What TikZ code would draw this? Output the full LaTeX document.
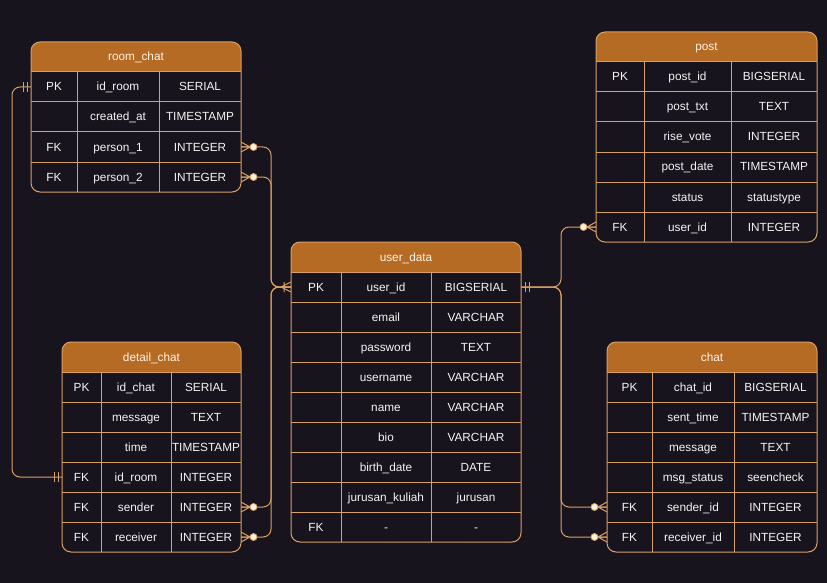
\documentclass[tikz,border=0pt]{standalone}
\usepackage{fontspec}
\setmainfont{Liberation Sans}
\definecolor{bgc}{HTML}{18141D}
\definecolor{hdc}{HTML}{B66B25}
\definecolor{lc}{HTML}{D9A066}
\definecolor{txc}{HTML}{F4F4F4}
\definecolor{hdtx}{HTML}{FFF3E2}
\definecolor{dotc}{HTML}{FFF3DC}
\tikzset{
  lnk/.style={draw=lc, line width=1pt},
  conn/.style={lnk, rounded corners=8pt},
  cell/.style={text=txc, font=\fontsize{11.8}{13}\selectfont, inner sep=0pt, text height=10pt, text depth=2pt},
  rowbox/.style={inner sep=0pt, outer sep=0pt, minimum height=30pt},
}
\newcommand\ertable[8]{%
  \pgfmathsetmacro\tx{#2}%
  \pgfmathsetmacro\ty{#3}%
  \pgfmathsetmacro\tw{#4+#5+#6}%
  \pgfmathsetmacro\ca{\tx+#4/2}%
  \pgfmathsetmacro\cb{\tx+#4+#5/2}%
  \pgfmathsetmacro\cc{\tx+#4+#5+#6/2}%
  \pgfmathsetmacro\va{\tx+#4}%
  \pgfmathsetmacro\vb{\tx+#4+#5}%
  \gdef\nr{0}%
  \foreach \ka/\kb/\kc [count=\i] in {#8} {\xdef\nr{\i}}%
  \pgfmathsetmacro\th{30+30*\nr}%
  \fill[bgc, rounded corners=9pt] (\tx,\ty) rectangle ++(\tw,\th);
  \begin{scope}
    \clip[rounded corners=9pt] (\tx,\ty) rectangle ++(\tw,\th);
    \fill[hdc] (\tx,\ty) rectangle ++(\tw,30);
  \end{scope}
  \node[cell, text=hdtx] (#1-h) at (\tx+\tw/2,\ty+15) {#7};
  \foreach \ka/\kb/\kc [count=\i] in {#8} {
    \pgfmathsetmacro\ry{\ty+15+30*\i}
    \node[rowbox, minimum width=\tw pt] (#1-\i) at (\tx+\tw/2,\ry) {};
    \node[cell] at (\ca,\ry) {\ka};
    \node[cell] at (\cb,\ry) {\kb};
    \node[cell] at (\cc,\ry) {\kc};
    \draw[lnk] (\tx,\ry-15) -- ++(\tw,0);
  }
  \draw[lnk] (\va,\ty+30) -- (\va,\ty+\th);
  \draw[lnk] (\vb,\ty+30) -- (\vb,\ty+\th);
  \draw[lnk, rounded corners=9pt] (\tx,\ty) rectangle ++(\tw,\th);
}
\newcommand\zmany[2]{%
  \begin{scope}[shift={(#1)}, xscale=#2]
    \draw[lnk] (0,-5) -- (9,0) -- (0,5) (0,0) -- (9,0);
    \filldraw[draw=lc, fill=dotc, line width=0.8pt] (12.5,0) circle (3.5pt);
  \end{scope}}
\newcommand\omany[2]{%
  \begin{scope}[shift={(#1)}, xscale=#2]
    \draw[lnk] (0,-5) -- (10,0) -- (0,5) (0,0) -- (10,0) (7,-5) -- (7,5);
  \end{scope}}
\newcommand\mone[2]{%
  \begin{scope}[shift={(#1)}, xscale=#2]
    \draw[lnk] (4,-5) -- (4,5) (8,-5) -- (8,5);
  \end{scope}}
\begin{document}
\begin{tikzpicture}[x=1pt, y=-1pt]
  \fill[bgc] (0,0) rectangle (827,583);
  \useasboundingbox (0,0) rectangle (827,583);

  \ertable{rc}{31}{42}{46}{82}{82}{room\_chat}{PK/id\_room/SERIAL, {}/created\_at/TIMESTAMP, FK/person\_1/INTEGER, FK/person\_2/INTEGER}
  \ertable{post}{596}{32}{48}{87}{86}{post}{PK/post\_id/BIGSERIAL, {}/post\_txt/TEXT, {}/rise\_vote/INTEGER, {}/post\_date/TIMESTAMP, {}/status/statustype, FK/user\_id/INTEGER}
  \ertable{ud}{291}{242}{50}{90}{90}{user\_data}{PK/user\_id/BIGSERIAL, {}/email/VARCHAR, {}/password/TEXT, {}/username/VARCHAR, {}/name/VARCHAR, {}/bio/VARCHAR, {}/birth\_date/DATE, {}/jurusan\_kuliah/jurusan, FK/-/-}
  \ertable{dc}{62}{342}{39}{70}{70}{detail\_chat}{PK/id\_chat/SERIAL, {}/message/TEXT, {}/time/TIMESTAMP, FK/id\_room/INTEGER, FK/sender/INTEGER, FK/receiver/INTEGER}
  \ertable{chat}{607}{342}{45}{82}{83}{chat}{PK/chat\_id/BIGSERIAL, {}/sent\_time/TIMESTAMP, {}/message/TEXT, {}/msg\_status/seencheck, FK/sender\_id/INTEGER, FK/receiver\_id/INTEGER}

  % connectors
  \draw[conn] (rc-1.west) -- ++(-19,0) |- (dc-4.west);
  \draw[conn] (rc-3.east) -- ++(30,0) |- (ud-1.west);
  \draw[conn] (rc-4.east) -- ++(30,0) |- (ud-1.west);
  \draw[conn] (dc-5.east) -- ++(30,0) |- (ud-1.west);
  \draw[conn] (dc-6.east) -- ++(30,0) |- (ud-1.west);
  \draw[conn] (ud-1.east) -- ++(40,0) |- (post-6.west);
  \draw[conn] (ud-1.east) -- ++(40,0) |- (chat-5.west);
  \draw[conn] (ud-1.east) -- ++(40,0) |- (chat-6.west);

  % markers
  \mone{rc-1.west}{-1}
  \mone{dc-4.west}{-1}
  \mone{ud-1.east}{1}
  \omany{ud-1.west}{-1}
  \zmany{rc-3.east}{1}
  \zmany{rc-4.east}{1}
  \zmany{dc-5.east}{1}
  \zmany{dc-6.east}{1}
  \zmany{post-6.west}{-1}
  \zmany{chat-5.west}{-1}
  \zmany{chat-6.west}{-1}
\end{tikzpicture}
\end{document}
